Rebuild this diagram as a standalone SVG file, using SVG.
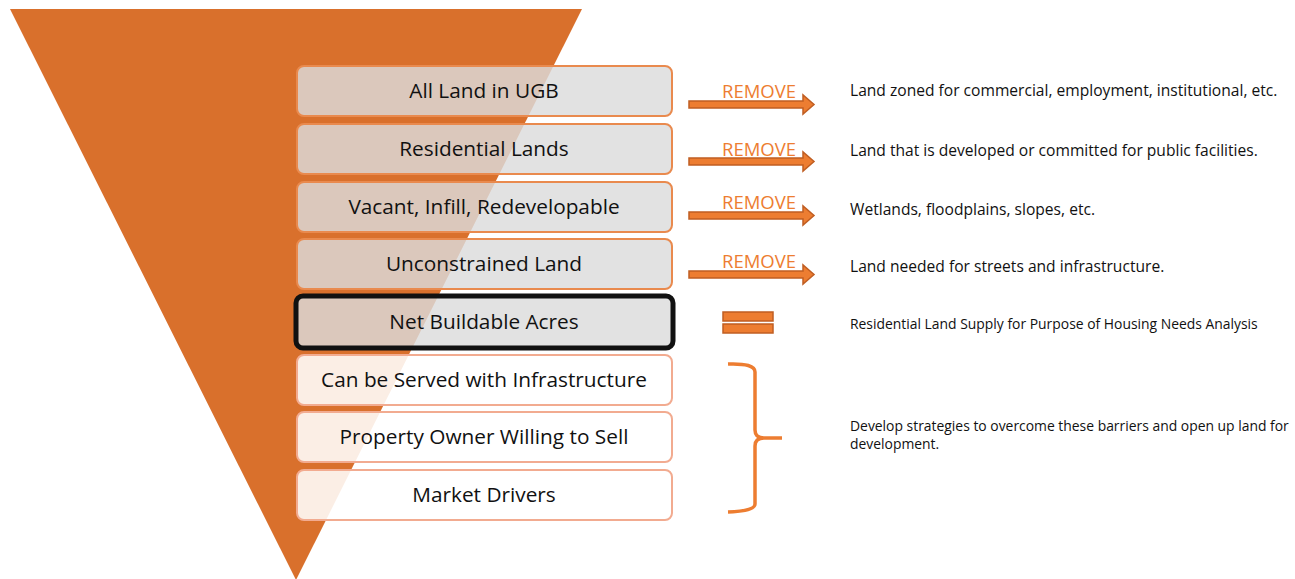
<svg xmlns="http://www.w3.org/2000/svg" width="1295" height="579" viewBox="0 0 1295 579">
<defs>
<style>
.bx{fill:#dcdcdc;fill-opacity:0.82;stroke:#e98a4e;stroke-width:2}
.bw{fill:#ffffff;fill-opacity:0.88;stroke:#f2ab90;stroke-width:2}
.bk{fill:#dcdcdc;fill-opacity:0.82;stroke:#111111;stroke-width:5}
.bt{font-family:"Open Sans",sans-serif;font-size:20.8px;fill:#111111;text-anchor:middle}
.rm{font-family:"Open Sans",sans-serif;font-size:18.5px;fill:#ed7d31}
.rt{font-family:"Open Sans",sans-serif;font-size:15.6px;fill:#111111}
.st{font-family:"Open Sans",sans-serif;font-size:13.9px;fill:#111111}
.ar{fill:#ed7d31;stroke:#c05e22;stroke-width:1.5}
</style>
</defs>
<polygon id="funnel" points="10,9 582,9 296,580" fill="#d9702c"/>
<g id="n1"><rect class="bx" x="297" y="66" width="375" height="50" rx="7"/><text class="bt" x="484" y="98">All Land in UGB</text></g>
<g id="n2"><rect class="bx" x="297" y="124" width="375" height="50" rx="7"/><text class="bt" x="484" y="156">Residential Lands</text></g>
<g id="n3"><rect class="bx" x="297" y="182" width="375" height="50" rx="7"/><text class="bt" x="484" y="214">Vacant, Infill, Redevelopable</text></g>
<g id="n4"><rect class="bx" x="297" y="239" width="375" height="50" rx="7"/><text class="bt" x="484" y="271">Unconstrained Land</text></g>
<g id="n5"><rect class="bk" x="296" y="296" width="377" height="52" rx="7"/><text class="bt" x="484" y="329">Net Buildable Acres</text></g>
<g id="n6"><rect class="bw" x="297" y="355" width="375" height="50" rx="7"/><text class="bt" x="484" y="387">Can be Served with Infrastructure</text></g>
<g id="n7"><rect class="bw" x="297" y="412" width="375" height="50" rx="7"/><text class="bt" x="484" y="444">Property Owner Willing to Sell</text></g>
<g id="n8"><rect class="bw" x="297" y="470" width="375" height="50" rx="7"/><text class="bt" x="484" y="502">Market Drivers</text></g>
<g id="connectors">
<path class="ar" d="M689,101 H803 V95 L814,104.5 L803,114 V108 H689 Z"/>
<path class="ar" d="M689,158 H803 V152 L814,161.5 L803,171 V165 H689 Z"/>
<path class="ar" d="M689,212 H803 V206 L814,215.5 L803,225 V219 H689 Z"/>
<path class="ar" d="M689,271 H803 V265 L814,274.5 L803,284 V278 H689 Z"/>
<rect class="ar" x="723" y="312" width="50" height="9"/>
<rect class="ar" x="723" y="324" width="50" height="9"/>
<path d="M728,364 Q755,363 755,372 V430 Q755,438 764,438 H782 M764,438 Q755,438 755,446 V504 Q755,511 728,512" fill="none" stroke="#ed7d31" stroke-width="3.5"/>
</g>
<g id="labels">
<text class="rm" x="722" y="98">REMOVE</text>
<text class="rm" x="722" y="156">REMOVE</text>
<text class="rm" x="722" y="209">REMOVE</text>
<text class="rm" x="722" y="268">REMOVE</text>
<text class="rt" x="850" y="96">Land zoned for commercial, employment, institutional, etc.</text>
<text class="rt" x="850" y="156">Land that is developed or committed for public facilities.</text>
<text class="rt" x="850" y="215">Wetlands, floodplains, slopes, etc.</text>
<text class="rt" x="850" y="272">Land needed for streets and infrastructure.</text>
<text class="st" x="850" y="329">Residential Land Supply for Purpose of Housing Needs Analysis</text>
<text class="st" x="850" y="431">Develop strategies to overcome these barriers and open up land for</text>
<text class="st" x="850" y="449">development.</text>
</g>
</svg>
